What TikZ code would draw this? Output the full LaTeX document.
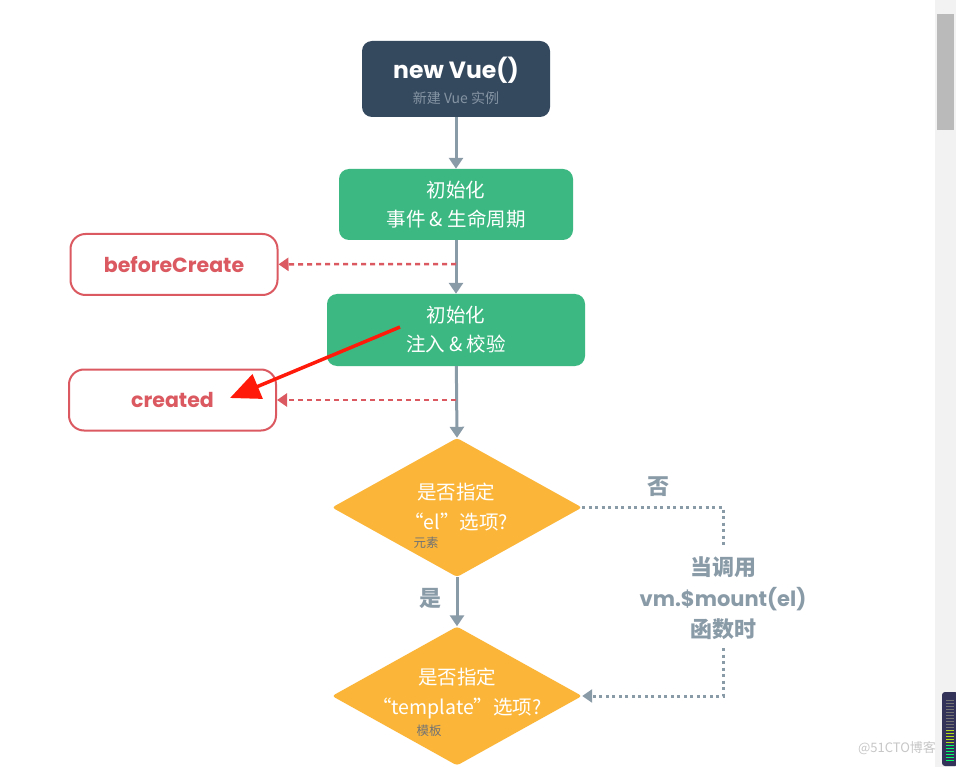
\documentclass[tikz,border=0pt]{standalone}
\usepackage{fontspec}
\setmainfont{Noto Sans CJK SC}
\newfontfamily\popfont{Poppins}
\usetikzlibrary{arrows.meta,shapes.geometric}
\definecolor{vuedark}{HTML}{35495E}
\definecolor{vuegreen}{HTML}{3CB982}
\definecolor{hookred}{HTML}{DB5A61}
\definecolor{vueorange}{HTML}{FBB63A}
\definecolor{flowgrey}{HTML}{8A9BA8}
\definecolor{subgrey}{HTML}{8494A3}
\definecolor{notered}{HTML}{FF1A0A}
\tikzset{
  initbox/.style={fill=vuegreen, rounded corners=10pt, inner sep=0pt, text=white,
    align=center, font=\fontsize{19.5}{29}\selectfont},
  hookbox/.style={draw=hookred, line width=2pt, fill=white, rounded corners=15pt,
    minimum width=207pt, minimum height=61pt, text=hookred, font=\popfont\bfseries\fontsize{20.5}{20.5}\selectfont},
  decision/.style={diamond, fill=vueorange, rounded corners=3pt, inner sep=0pt,
    minimum width=250pt, minimum height=139pt},
  flow/.style={draw=flowgrey, line width=3pt, -{Triangle[length=11pt,width=14pt]}},
  hookline/.style={draw=hookred, line width=2.5pt, dash pattern=on 5pt off 4pt,
    -{Triangle[length=10pt,width=13pt]}},
  dotline/.style={draw=flowgrey, line width=3pt, dash pattern=on 3pt off 3.5pt},
  wlabel/.style={text=white, align=center, font=\fontsize{19.5}{30}\selectfont},
  tiny/.style={text=black!55, font=\fontsize{12.5}{12.5}\selectfont},
  glabel/.style={text=flowgrey, font=\bfseries\fontsize{22}{22}\selectfont}
}
\begin{document}
\begin{tikzpicture}[x=1pt,y=-1pt]
  \useasboundingbox[fill=white] (0,0) rectangle (956,767);
  % scroll bar of the screenshot
  \fill[black!5] (935,0) rectangle (956,767);
  \fill[black!27] (937,14) rectangle (954,130);

  % start
  \node[fill=vuedark, rounded corners=10pt, minimum width=188pt, minimum height=76pt] (vue) at (456,79) {};
  \node[text=white, font=\popfont\bfseries\fontsize{23.5}{23.5}\selectfont] (vuetitle) at (456,70) {new Vue()};
  \node[text=subgrey, font=\fontsize{14}{14}\selectfont] (vuesub) at (456,98) {新建 Vue 实例};

  % init steps
  \node[initbox, minimum width=234pt, minimum height=71pt] (init1) at (456,204.5) {初始化\\事件 \& 生命周期};
  \node[initbox, minimum width=258pt, minimum height=72pt] (init2) at (456,330) {初始化\\注入 \& 校验};

  % hooks
  \node[hookbox] (before) at (174,264.5) {beforeCreate};
  \node[hookbox] (created) at (172.5,400) {created};
  \coordinate (bchook) at (456,264);
  \coordinate (crhook) at (456,400);

  % decisions
  \node[decision] (el) at (457,507.5) {};
  \node[wlabel] (elq) at (456,507.5) {是否指定\\“el”选项?};
  \node[tiny] (eltip) at (426,543) {元素};
  \node[decision] (tpl) at (457,696) {};
  \node[wlabel] (tplq) at (457,693) {是否指定\\“template”选项?};
  \node[tiny] (tpltip) at (429,731) {模板};

  % labels
  \node[glabel] (no) at (658,487) {否};
  \node[glabel] (yes) at (430,598) {是};
  \node[glabel, align=center, font=\bfseries\fontsize{22}{31}\selectfont] (mount) at (723,598)
    {当调用\\{\popfont\bfseries\fontsize{21}{21}\selectfont vm.\$mount(el)}\\函数时};
  \coordinate (mtop) at (723,547);
  \coordinate (mbot) at (723,648);

  % connectors
  \draw[flow] (vue) -- (init1);
  \draw[flow] (init1) -- (init2);
  \draw[flow] (init2) -- (el.north);
  \draw[flow] (el.south) -- (tpl.north);
  \draw[hookline] (bchook) -- (before);
  \draw[hookline] (crhook) -- (created);
  \draw[dotline] (el.east) -| (mtop);
  \draw[dotline, -{Triangle[length=10pt,width=13pt]}] (mbot) |- (tpl.east);

  % annotation
  \coordinate (notefrom) at (400,327);
  \coordinate (noteto) at (230,398);
  \draw[notered, line width=3.5pt, -{Triangle[length=30pt,width=26pt]}] (notefrom) -- (noteto);

  % watermark and widget
  \node[text=black!22, font=\fontsize{13}{13}\selectfont] (mark) at (897,748) {@51CTO博客};
  \fill[rounded corners=3pt, fill=black!75!blue!60!gray] (942,692) rectangle (958,766);
  \foreach \yy in {700,703,...,727} \draw[black!55, line width=1pt] (946,\yy) -- (954,\yy);
  \foreach \yy in {730,733,...,742} \draw[yellow!70!green, line width=1pt] (946,\yy) -- (954,\yy);
  \foreach \yy in {745,748,...,762} \draw[green!60!cyan, line width=1pt] (946,\yy) -- (954,\yy);
\end{tikzpicture}
\end{document}
